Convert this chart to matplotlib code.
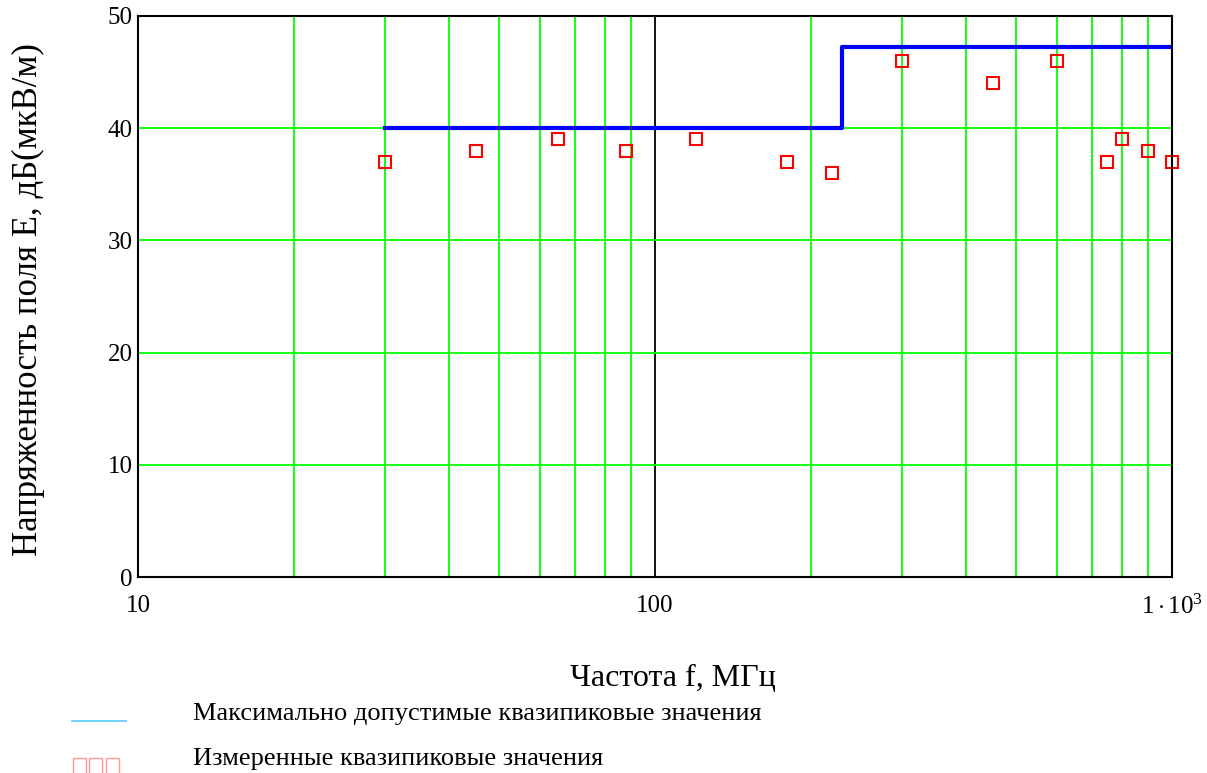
import matplotlib
matplotlib.use('Agg')
import matplotlib.pyplot as plt
from matplotlib.patches import Rectangle
from matplotlib.lines import Line2D
from matplotlib.ticker import NullFormatter

plt.rcParams['font.family'] = ['Liberation Serif', 'DejaVu Serif']
plt.rcParams['mathtext.fontset'] = 'custom'
plt.rcParams['mathtext.rm'] = 'Liberation Serif'
plt.rcParams['mathtext.it'] = 'Liberation Serif:italic'

# limit line (step)
limit_f = [30, 230, 230, 1000]
limit_e = [40, 40, 47.2, 47.2]

# measured quasi-peak values
meas_f = [30, 45, 65, 88, 120, 180, 220, 300, 450, 600, 750, 800, 900, 1000]
meas_e = [37, 38, 39, 38, 39, 37, 36, 46, 44, 46, 37, 39, 38, 37]

y_ticks = [0, 10, 20, 30, 40, 50]
x_ticks = [10, 100, 1000]
x_tick_labels = ['10', '100', r'$\mathrm{1\cdot10^3}$']

fig = plt.figure(figsize=(12.07, 7.73), dpi=100)
ax = fig.add_axes([138/1207, 1-577/773, (1172-138)/1207, (577-16)/773])

ax.set_xscale('log')
ax.set_xlim(10, 1000)
ax.set_ylim(0, 50)

# grid
minor = [v * d for d in (10, 100) for v in range(2, 10)]
for m in minor:
    ax.axvline(m, color='#00ff00', lw=1.3, zorder=1)
ax.axvline(100, color='black', lw=1.3, zorder=1)
for h in [10, 20, 30, 40, 50]:
    ax.axhline(h, color='#00ff00', lw=1.3, zorder=1)

ax.plot(limit_f, limit_e, color='#0000ff', lw=3, zorder=3)
ax.plot(meas_f, meas_e, 's', mfc='none', mec='#ff0000', ms=9, mew=1.5,
        zorder=4, clip_on=False)

ax.set_xticks(x_ticks)
ax.set_xticklabels(x_tick_labels)
ax.xaxis.set_minor_formatter(NullFormatter())
ax.set_yticks(y_ticks)
ax.tick_params(axis='both', which='both', length=0, labelsize=18)
ax.tick_params(axis='x', pad=13)
ax.tick_params(axis='y', pad=4)
for s in ax.spines.values():
    s.set_linewidth(1.5)
    s.set_zorder(5)

fig.text(673/1207, 1-678/773, 'Частота f, МГц', fontsize=23, ha='center', va='center')
fig.text(28/1207, 1-300/773, 'Напряженность поля E, дБ(мкВ/м)', fontsize=25,
         rotation=90, ha='center', va='center')

# legend
fig.add_artist(Line2D([72/1207, 126/1207], [1-721/773, 1-721/773],
                      color='#55ccff', lw=1.2, transform=fig.transFigure))
for x0 in [73, 89, 106]:
    fig.add_artist(Rectangle((x0/1207, 1-775/773), 13/1207, 17/773,
                             fill=False, ec='#ff9999', lw=1.0,
                             transform=fig.transFigure))
fig.text(193/1207, 1-720/773, 'Максимально допустимые квазипиковые значения',
         fontsize=19, va='baseline')
fig.text(193/1207, 1-765/773, 'Измеренные квазипиковые значения',
         fontsize=19, va='baseline')

fig.savefig('out.png', dpi=100)
